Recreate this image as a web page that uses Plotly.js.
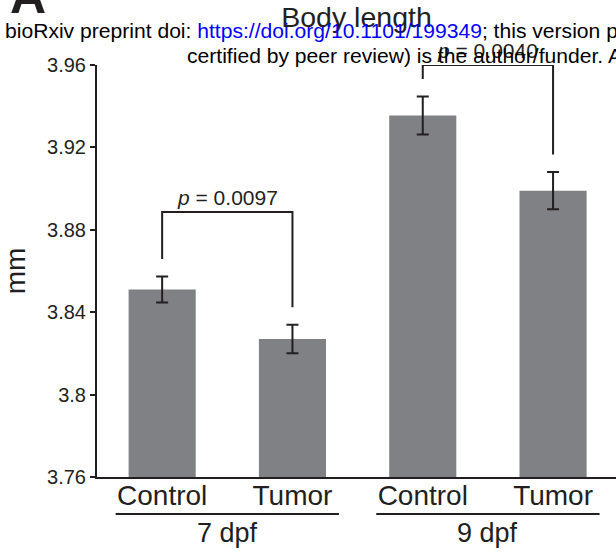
<!DOCTYPE html>
<html>
<head>
<meta charset="utf-8">
<script src="https://cdn.plot.ly/plotly-3.0.1.min.js"></script>
<style>
  html, body { margin: 0; padding: 0; background: #fff; overflow: hidden; }
  #chart { width: 616px; height: 553px; }
</style>
</head>
<body>
<div id="chart"></div>
<script>
// Body length of larvae (mm), mean ± SEM
const categories = ['Control', 'Tumor', 'Control', 'Tumor'];
const groups = ['7 dpf', '9 dpf'];
const bodyLength = [3.851, 3.827, 3.9355, 3.899];
const sem = [0.0063, 0.0069, 0.0092, 0.0090];
const pValues = ['0.0097', '0.0040'];
const bracketTop = [3.8886, 3.96];
const yTickVals = [3.76, 3.80, 3.84, 3.88, 3.92, 3.96];
const yTickText = ['3.76', '3.8', '3.84', '3.88', '3.92', '3.96'];

const ink = '#231f20';
const font = 'Liberation Sans, Arial, Helvetica, sans-serif';

// plot-area geometry in pixels, used to place the free text in paper units
const W = 616, H = 553;
const M = { l: 97, r: 0, t: 65, b: 76 };
const plotW = W - M.l - M.r, plotH = H - M.t - M.b;
const px = x => (x - M.l) / plotW;
const py = y => (H - M.b - y) / plotH;

const xIdx = categories.map((_, i) => i);

const bars = {
  type: 'bar',
  x: xIdx,
  y: bodyLength,
  width: 0.515,
  marker: { color: '#808184', line: { width: 0 } },
  error_y: { type: 'data', array: sem, visible: true, color: ink, thickness: 2, width: 6 },
  hoverinfo: 'y'
};

const shapes = [];
const annotations = [];

// significance brackets between Control and Tumor of each stage
const gap = 0.0085;
groups.forEach((g, k) => {
  const a = 2 * k, b = 2 * k + 1;
  const top = bracketTop[k];
  const line = { color: ink, width: 2 };
  shapes.push({ type: 'path', xref: 'x', yref: 'y', line,
    path: `M ${a} ${bodyLength[a] + sem[a] + gap} L ${a} ${top} L ${b} ${top} L ${b} ${bodyLength[b] + sem[b] + gap}` });
  annotations.push({ xref: 'x', yref: 'y', x: (a + b) / 2, y: top, yanchor: 'bottom', yshift: 1,
    showarrow: false, text: `<i>p</i> = ${pValues[k]}`, font: { family: font, size: 21, color: ink } });

  // group underline and stage label
  const c = (a + b) / 2;
  shapes.push({ type: 'line', xref: 'x', yref: 'paper', x0: c - 0.857, x1: c + 0.857,
    y0: py(514), y1: py(514), line: { color: ink, width: 2 } });
  annotations.push({ xref: 'x', yref: 'paper', x: c, y: py(542 - 0.35 * 27), yanchor: 'middle',
    showarrow: false, text: g, font: { family: font, size: 27, color: ink } });
});

// preprint header lines and panel letter
annotations.push({ xref: 'paper', yref: 'paper', x: px(3), y: py(37.8 - 0.35 * 21.1), xanchor: 'left', yanchor: 'middle',
  showarrow: false, font: { family: font, size: 21.1, color: '#000' },
  text: 'bioRxiv preprint doi: <span style="color:#0000ff">https://doi.org/10.1101/199349</span>; this version posted October 5, 2017. The copyright holder for this preprint (which was not' });
annotations.push({ xref: 'paper', yref: 'paper', x: px(185), y: py(63.3 - 0.35 * 21.1), xanchor: 'left', yanchor: 'middle',
  showarrow: false, font: { family: font, size: 21.1, color: '#000' },
  text: 'certified by peer review) is the author/funder. All rights reserved. No reuse allowed without permission.' });
annotations.push({ xref: 'paper', yref: 'paper', x: px(8), y: py(13 - 0.35 * 50), xanchor: 'left', yanchor: 'middle',
  showarrow: false, font: { family: font, size: 50, color: ink }, text: '<b>A</b>' });

const layout = {
  width: W, height: H,
  margin: M,
  paper_bgcolor: '#fff', plot_bgcolor: '#fff',
  showlegend: false,
  font: { family: font, color: ink },
  title: { text: 'Body length', x: 0.5, xanchor: 'center', xref: 'paper',
    y: 1 - (26.7 - 0.35 * 28.5) / H, yanchor: 'middle', yref: 'container',
    font: { family: font, size: 28.5, color: ink } },
  xaxis: {
    range: [-0.5, 3.483], showgrid: false, zeroline: false,
    showline: true, linecolor: ink, linewidth: 2,
    tickmode: 'array', tickvals: xIdx, ticktext: categories, ticks: '',
    ticklabelstandoff: -8,
    tickfont: { family: font, size: 28, color: ink }, fixedrange: true
  },
  yaxis: {
    range: [3.76, 3.96], showgrid: false, zeroline: false,
    showline: true, linecolor: ink, linewidth: 2,
    tickmode: 'array', tickvals: yTickVals, ticktext: yTickText,
    ticks: 'outside', ticklen: 5, tickwidth: 2, tickcolor: ink,
    tickfont: { family: font, size: 20, color: ink },
    title: { text: 'mm', font: { family: font, size: 28, color: ink }, standoff: 20 },
    automargin: false, fixedrange: true
  },
  shapes, annotations,
  bargap: 0.3
};

Plotly.newPlot('chart', [bars], layout, { displayModeBar: false, staticPlot: true });
</script>
</body>
</html>
